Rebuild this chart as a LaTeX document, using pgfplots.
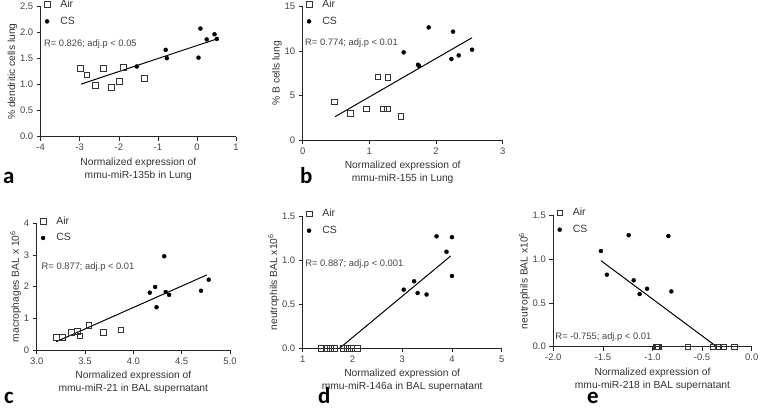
\documentclass[border=0pt]{standalone}
\usepackage{pgfplots}
\pgfplotsset{compat=1.18}
\usepackage{fontspec}
\setmainfont{Liberation Sans}
\newfontfamily\letterfont{Carlito}
\definecolor{txt}{HTML}{333333}
\definecolor{tick}{HTML}{444444}

\pgfplotsset{
  panel/.style={
    scale only axis, clip=false, anchor=south west,
    axis x line*=bottom, axis y line*=left,
    axis line style={line width=0.7bp, black!85},
    tick align=outside, major tick length=4bp,
    tick style={line width=0.6bp, black!85},
    tick label style={font=\fontsize{9.5}{10}\selectfont, text=tick},
    label style={font=\fontsize{10.3}{13}\selectfont, text=txt},
    xlabel style={align=center},
    ylabel shift=-4bp,
    legend style={at={(axis description cs:0,1)}, anchor=north west,
      xshift=0bp, yshift=8bp, inner sep=0bp,
      draw=none, fill=none, font=\fontsize{10.5}{12}\selectfont, text=txt,
      row sep=6bp, nodes={inner sep=1bp}},
    legend cell align=left,
    legend image code/.code={\path (0bp,0bp) (18bp,0bp);
      \draw[mark repeat=2,mark phase=2,##1]
      plot coordinates {(0bp,0bp) (6bp,0bp) (14bp,0bp)};},
  },
  air/.style={only marks, mark=square, mark size=2.9bp,
    mark options={draw=black!80, line width=0.6bp, fill=white}},
  cs/.style={only marks, mark=*, mark size=2bp,
    mark options={fill=black, draw=black}},
  fit/.style={black, line width=1bp, no marks},
}
\newcommand{\rtext}[1]{{\fontsize{9.4}{10}\selectfont\color{tick}#1}}

\begin{document}
\begin{tikzpicture}
\useasboundingbox (0,0) rectangle (760bp,-408bp);

% a
\begin{axis}[panel, at={(40.7bp,-136.7bp)}, width=195.3bp, height=130bp,
  xmin=-4, xmax=1, ymin=0, ymax=2.5,
  xtick={-4,-3,-2,-1,0,1}, xticklabels={-4,-3,-2,-1,0,1},
  ytick={0,0.5,1,1.5,2,2.5}, yticklabels={0.0,0.5,1.0,1.5,2.0,2.5},
  xlabel={Normalized expression of\\mmu-miR-135b in Lung},
  ylabel={\% dendritic cells lung}]
\addplot[air] coordinates {(-2.99,1.31)(-2.82,1.19)(-2.60,0.99)(-2.39,1.31)
  (-2.20,0.95)(-1.99,1.07)(-1.88,1.33)(-1.35,1.12)};
\addplot[cs] coordinates {(-1.54,1.35)(-0.80,1.67)(-0.77,1.51)(0.04,1.52)
  (0.09,2.08)(0.25,1.87)(0.45,1.97)(0.51,1.88)};
\addplot[fit] coordinates {(-2.97,1.01)(0.51,1.88)};
\legend{Air,CS}
\node[anchor=west, inner sep=0] at (axis cs:-3.92,1.79) {\rtext{R= 0.826; adj.p < 0.05}};
\end{axis}

% b
\begin{axis}[panel, at={(302.7bp,-140bp)}, width=200bp, height=133.3bp,
  xmin=0, xmax=3, ymin=0, ymax=15,
  xtick={0,1,2,3}, xticklabels={0,1,2,3},
  ytick={0,5,10,15}, yticklabels={0,5,10,15},
  xlabel={Normalized expression of\\mmu-miR-155 in Lung},
  ylabel={\% B cells lung}]
\addplot[air] coordinates {(0.47,4.31)(0.71,3.04)(0.95,3.52)(1.125,7.12)
  (1.205,3.52)(1.265,3.52)(1.275,7.05)(1.47,2.70)};
\addplot[cs] coordinates {(1.515,9.86)(1.73,8.47)(1.745,8.32)(1.89,12.67)
  (2.255,12.19)(2.23,9.11)(2.34,9.52)(2.54,10.16)};
\addplot[fit] coordinates {(0.485,2.62)(2.54,11.51)};
\legend{Air,CS}
\node[anchor=west, inner sep=0] at (axis cs:0.035,10.9) {\rtext{R= 0.774; adj.p < 0.01}};
\end{axis}

% c
\begin{axis}[panel, at={(36.7bp,-350bp)}, width=193.3bp, height=126.7bp,
  xmin=3, xmax=5, ymin=0, ymax=4,
  xtick={3,3.5,4,4.5,5}, xticklabels={3.0,3.5,4.0,4.5,5.0},
  ytick={0,1,2,3,4}, yticklabels={0,1,2,3,4},
  xlabel={Normalized expression of\\mmu-miR-21 in BAL supernatant},
  ylabel={macrophages BAL x 10\textsuperscript{6}}]
\addplot[air] coordinates {(3.20,0.39)(3.265,0.41)(3.36,0.56)(3.42,0.60)
  (3.445,0.45)(3.54,0.78)(3.69,0.56)(3.87,0.64)};
\addplot[cs] coordinates {(4.17,1.81)(4.225,1.99)(4.24,1.35)(4.32,2.96)
  (4.335,1.83)(4.37,1.74)(4.70,1.87)(4.78,2.22)};
\addplot[fit] coordinates {(3.20,0.26)(4.76,2.37)};
\legend{Air,CS}
\node[anchor=west, inner sep=0] at (axis cs:3.05,2.63) {\rtext{R= 0.877; adj.p < 0.01}};
\end{axis}

% d
\begin{axis}[panel, at={(302.7bp,-348.3bp)}, width=199bp, height=132.3bp,
  xmin=1, xmax=5, ymin=0, ymax=1.5,
  xtick={1,2,3,4,5}, xticklabels={1,2,3,4,5},
  ytick={0,0.5,1,1.5}, yticklabels={0.0,0.5,1.0,1.5},
  xlabel={Normalized expression of\\mmu-miR-146a in BAL supernatant},
  ylabel={neutrophils BAL x10\textsuperscript{6}}]
\addplot[air] coordinates {(1.38,0)(1.47,0)(1.55,0)(1.63,0)
  (1.82,0)(1.90,0)(1.98,0)(2.09,0)};
\addplot[cs] coordinates {(3.03,0.665)(3.24,0.76)(3.31,0.627)(3.49,0.61)
  (3.69,1.27)(3.89,1.095)(4.00,1.26)(4.00,0.82)};
\addplot[fit] coordinates {(1.74,0)(3.975,1.047)};
\legend{Air,CS}
\node[anchor=west, inner sep=0] at (axis cs:1.05,0.96) {\rtext{R= 0.887; adj.p < 0.001}};
\end{axis}

% e
\begin{axis}[panel, at={(553.3bp,-346.7bp)}, width=198.4bp, height=131.7bp,
  xmin=-2, xmax=0, ymin=0, ymax=1.5,
  xtick={-2,-1.5,-1,-0.5,0}, xticklabels={-2.0,-1.5,-1.0,-0.5,0.0},
  ytick={0,0.5,1,1.5}, yticklabels={0.0,0.5,1.0,1.5},
  xlabel={Normalized expression of\\mmu-miR-218 in BAL supernatant},
  ylabel={neutrophils BAL x10\textsuperscript{6}}]
\addplot[air] coordinates {(-0.96,0)(-0.95,0)(-0.94,0)(-0.645,0)
  (-0.387,0)(-0.337,0)(-0.286,0)(-0.178,0)};
\addplot[cs] coordinates {(-1.52,1.09)(-1.46,0.82)(-1.24,1.27)(-1.19,0.756)
  (-1.13,0.60)(-1.055,0.66)(-0.84,1.26)(-0.81,0.63)};
\addplot[fit] coordinates {(-1.52,0.98)(-0.353,0)};
\legend{Air,CS}
\node[anchor=west, inner sep=0] at (axis cs:-1.98,0.11) {\rtext{R= -0.755; adj.p < 0.01}};
\end{axis}

\begin{scope}[every node/.style={anchor=base west, inner sep=0,
    font=\letterfont\bfseries\fontsize{23}{23}\selectfont}]
\node at (3bp,-183bp) {a};
\node at (300bp,-183bp) {b};
\node at (4bp,-403bp) {c};
\node at (318bp,-403bp) {d};
\node at (587bp,-403bp) {e};
\end{scope}
\end{tikzpicture}
\end{document}
